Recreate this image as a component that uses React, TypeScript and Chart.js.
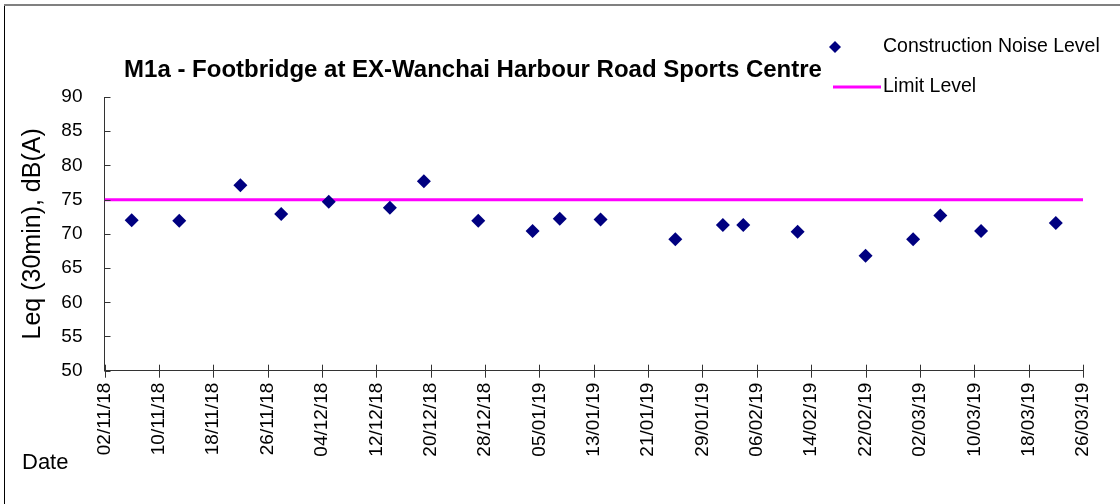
import { useEffect, useRef } from "react";
import { Chart, registerables } from "chart.js";

Chart.register(...registerables);

const chartTitle = "M1a - Footbridge at EX-Wanchai Harbour Road Sports Centre";
const yAxisTitle = "Leq (30min), dB(A)";
const xAxisTitle = "Date";
const seriesNames = ["Construction Noise Level", "Limit Level"];

const axisStartDate = "2018-11-02";
const tickStepDays = 8;
const tickLabels = [
  "02/11/18", "10/11/18", "18/11/18", "26/11/18", "04/12/18", "12/12/18",
  "20/12/18", "28/12/18", "05/01/19", "13/01/19", "21/01/19", "29/01/19",
  "06/02/19", "14/02/19", "22/02/19", "02/03/19", "10/03/19", "18/03/19",
  "26/03/19",
];

const measureDates = [
  "2018-11-06", "2018-11-13", "2018-11-22", "2018-11-28", "2018-12-05",
  "2018-12-14", "2018-12-19", "2018-12-27", "2019-01-04", "2019-01-08",
  "2019-01-14", "2019-01-25", "2019-02-01", "2019-02-04", "2019-02-12",
  "2019-02-22", "2019-03-01", "2019-03-05", "2019-03-11", "2019-03-22",
];
const noiseLevels = [
  72.0, 71.9, 77.1, 72.9, 74.7, 73.8, 77.7, 71.9, 70.4, 72.2,
  72.1, 69.2, 71.3, 71.3, 70.3, 66.8, 69.2, 72.7, 70.4, 71.6,
];
const limitLevel = 75;

const yMin = 50;
const yMax = 90;
const yStep = 5;

const FONT = "'Liberation Sans', Arial, sans-serif";
const NAVY = "#000080";
const MAGENTA = "#FF00FF";

const dayOffset = (d: string) =>
  Math.round((Date.parse(d) - Date.parse(axisStartDate)) / 86400000);

export default function App() {
  const ref = useRef<HTMLCanvasElement | null>(null);

  useEffect(() => {
    document.body.style.margin = "0";
    const canvas = ref.current;
    if (!canvas) return;
    const xMax = (tickLabels.length - 1) * tickStepDays;

    const decor = {
      id: "decor",
      beforeDraw(chart: any) {
        const c = chart.ctx;
        c.save();
        c.fillStyle = "#ffffff";
        c.fillRect(0, 0, chart.width, chart.height);
        c.fillStyle = "#808080";
        c.fillRect(4, 4, chart.width - 4, 2);
        c.fillStyle = "#000000";
        c.fillRect(4, 6, 1, chart.height - 6);
        c.restore();
      },
      afterDraw(chart: any) {
        const c = chart.ctx;
        const area = chart.chartArea;
        const xs = chart.scales.x;
        const ys = chart.scales.y;
        c.save();
        // tick marks
        c.strokeStyle = "#333333";
        c.lineWidth = 1;
        c.beginPath();
        ys.ticks.forEach((t: any) => {
          const py = Math.round(ys.getPixelForValue(t.value)) + 0.5;
          c.moveTo(area.left, py);
          c.lineTo(area.left + 6, py);
        });
        xs.ticks.forEach((t: any) => {
          const px = Math.round(xs.getPixelForValue(t.value)) + 0.5;
          c.moveTo(px, area.bottom - 6);
          c.lineTo(px, area.bottom + 7);
        });
        c.stroke();

        // title
        c.fillStyle = "#000000";
        c.font = `bold 24px ${FONT}`;
        c.textAlign = "center";
        c.textBaseline = "alphabetic";
        c.fillText(chartTitle, 473, 77);

        // x axis caption
        c.font = `22px ${FONT}`;
        c.textAlign = "left";
        c.fillText(xAxisTitle, 22, 469);

        // legend
        const ds0 = chart.data.datasets[0];
        const ds1 = chart.data.datasets[1];
        c.fillStyle = ds0.pointBackgroundColor;
        c.beginPath();
        const lx = 835, ly = 47, r = 6;
        c.moveTo(lx, ly - r);
        c.lineTo(lx + r, ly);
        c.lineTo(lx, ly + r);
        c.lineTo(lx - r, ly);
        c.closePath();
        c.fill();
        c.strokeStyle = ds1.borderColor;
        c.lineWidth = 3;
        c.beginPath();
        c.moveTo(833, 87);
        c.lineTo(881, 87);
        c.stroke();
        c.fillStyle = "#000000";
        c.font = `19.5px ${FONT}`;
        c.textBaseline = "middle";
        c.fillText(ds0.label, 883, 47);
        c.fillText(ds1.label, 883, 87);
        c.restore();
      },
    };

    const chart = new Chart(canvas, {
      type: "scatter",
      data: {
        datasets: [
          {
            label: seriesNames[0],
            data: measureDates.map((d, i) => ({ x: dayOffset(d), y: noiseLevels[i] })),
            pointStyle: "rectRot",
            pointRadius: 7,
            pointBackgroundColor: NAVY,
            pointBorderColor: NAVY,
            pointBorderWidth: 0,
            showLine: false,
            order: 1,
          },
          {
            label: seriesNames[1],
            data: [
              { x: 0, y: limitLevel },
              { x: xMax, y: limitLevel },
            ],
            type: "line",
            borderColor: MAGENTA,
            backgroundColor: MAGENTA,
            borderWidth: 3,
            pointRadius: 0,
            showLine: true,
            fill: false,
            order: 2,
          } as any,
        ],
      },
      plugins: [decor],
      options: {
        responsive: false,
        animation: false,
        devicePixelRatio: 1,
        layout: { padding: { left: 10, right: 37, top: 97, bottom: 0 } },
        plugins: {
          legend: { display: false },
          title: { display: false },
          tooltip: { enabled: false },
        },
        scales: {
          x: {
            type: "linear",
            min: 0,
            max: xMax,
            grid: { display: false, drawTicks: false },
            border: { display: true, color: "#333333", width: 1 },
            afterBuildTicks(scale: any) {
              scale.ticks = tickLabels.map((_, i) => ({ value: i * tickStepDays }));
            },
            afterFit(scale: any) {
              scale.height = 133.3;
            },
            ticks: {
              autoSkip: false,
              minRotation: 90,
              maxRotation: 90,
              padding: 12,
              color: "#000000",
              font: { family: FONT, size: 19 },
              callback: (_v: any, i: number) => tickLabels[i],
            },
          },
          y: {
            min: yMin,
            max: yMax,
            grid: { display: false, drawTicks: false },
            border: { display: true, color: "#333333", width: 1 },
            afterFit(scale: any) {
              scale.width = 94.5;
            },
            ticks: {
              stepSize: yStep,
              padding: 22,
              color: "#000000",
              font: { family: FONT, size: 19 },
            },
            title: {
              display: true,
              text: yAxisTitle,
              color: "#000000",
              font: { family: FONT, size: 25 },
              padding: { top: 8, bottom: 0 },
            },
          },
        },
      },
    });
    return () => chart.destroy();
  }, []);

  return (
    <div style={{ width: 1120, height: 504 }}>
      <canvas ref={ref} width={1120} height={504} style={{ display: "block" }} />
    </div>
  );
}
